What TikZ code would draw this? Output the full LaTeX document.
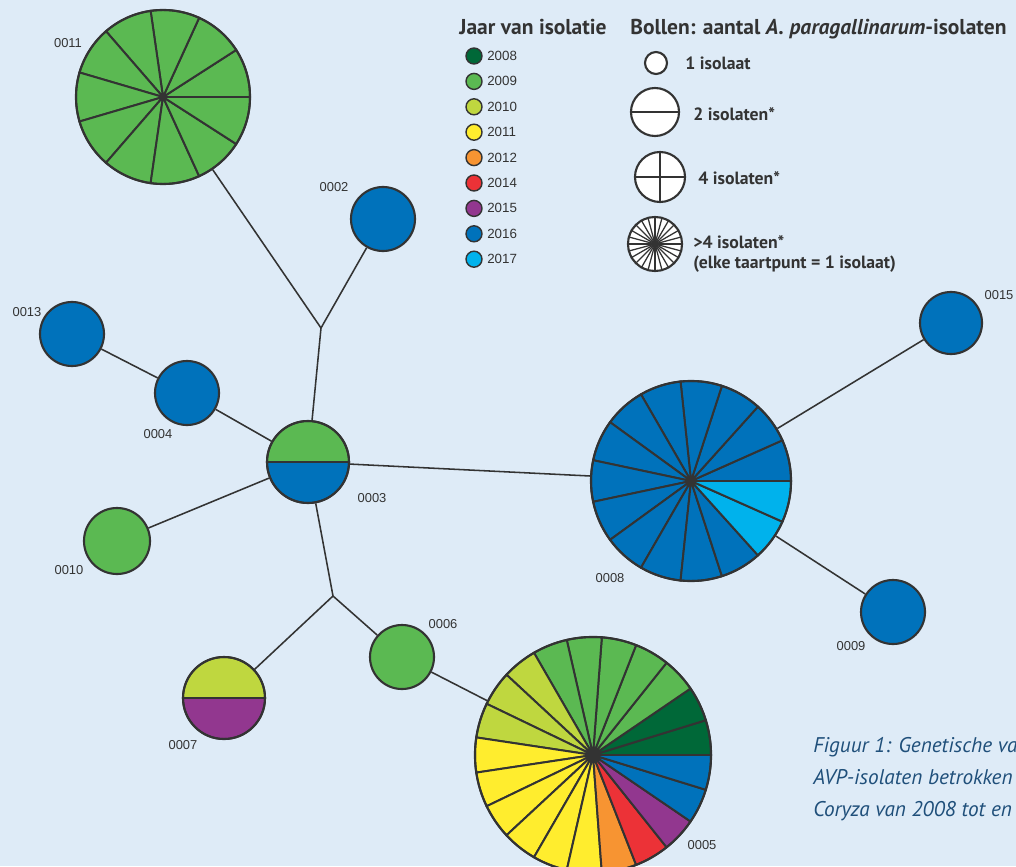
\documentclass[tikz,border=0pt]{standalone}
\usepackage{fontspec}
\setmainfont{Liberation Sans}
\newfontfamily\kopfont{PT Sans}
\usetikzlibrary{calc}

% kleuren per jaar
\definecolor{achter}{RGB}{222,235,247}
\definecolor{lijn}{RGB}{51,51,51}
\definecolor{capt}{RGB}{31,79,122}
\definecolor{j2008}{RGB}{0,104,56}
\definecolor{j2009}{RGB}{91,185,82}
\definecolor{j2010}{RGB}{191,215,63}
\definecolor{j2011}{RGB}{255,237,46}
\definecolor{j2012}{RGB}{247,148,50}
\definecolor{j2014}{RGB}{236,50,55}
\definecolor{j2015}{RGB}{146,55,143}
\definecolor{j2016}{RGB}{0,114,187}
\definecolor{j2017}{RGB}{0,178,236}

% taart: middelpunt, straal (px), aantal punten, kleurenlijst
\newcommand{\taart}[4]{%
  \foreach \kleur [count=\i from 0] in {#4} {%
    \filldraw[fill=\kleur,draw=lijn,line width=1.4pt]
      (#1) -- ++({\i*360/#3}:#2)
      arc[start angle={\i*360/#3},end angle={(\i+1)*360/#3},radius=#2] -- cycle;
  }%
}

\begin{document}
\begin{tikzpicture}[x=0.025cm,y=0.025cm,
  bol/.style={circle,draw=lijn,line width=1.5pt,inner sep=0pt,minimum size=#1*0.05cm},
  tak/.style={draw=lijn,line width=1.1pt},
  code/.style={font=\fontsize{9.2}{11}\selectfont,text=lijn,inner sep=0pt},
  kop/.style={font=\kopfont\bfseries\fontsize{15.3}{18}\selectfont,text=lijn,inner sep=0pt},
  uitleg/.style={font=\kopfont\bfseries\fontsize{12.6}{15}\selectfont,text=lijn,inner sep=0pt,anchor=west}]

% achtergrond
\fill[achter] (0,0) rectangle (1016,-866);
\useasboundingbox (0,0) rectangle (1016,-866);

% taarten
\taart{163,-97}{87}{11}{j2009,j2009,j2009,j2009,j2009,j2009,j2009,j2009,j2009,j2009,j2009}
\taart{691,-481}{100}{15}{j2016,j2016,j2016,j2016,j2016,j2016,j2016,j2016,j2016,j2016,j2016,j2016,j2016,j2017,j2017}
\taart{593,-755}{118}{21}{j2008,j2008,j2009,j2009,j2009,j2009,j2009,j2010,j2010,j2010,j2011,j2011,j2011,j2011,j2011,j2011,j2012,j2014,j2015,j2016,j2016}
\taart{308,-462}{41}{2}{j2009,j2016}
\taart{224,-698}{41}{2}{j2010,j2015}

% bollen
\node[bol=87] (n0011) at (163,-97) {};
\node[bol=100] (n0008) at (691,-481) {};
\node[bol=118] (n0005) at (593,-755) {};
\node[bol=41] (n0003) at (308,-462) {};
\node[bol=41] (n0007) at (224,-698) {};
\node[bol=32,fill=j2016] (n0002) at (383,-219) {};
\node[bol=32,fill=j2016] (n0013) at (72,-334) {};
\node[bol=32,fill=j2016] (n0004) at (187,-393) {};
\node[bol=33,fill=j2009] (n0010) at (117,-541) {};
\node[bol=31,fill=j2016] (n0015) at (951,-323) {};
\node[bol=32,fill=j2016] (n0009) at (893,-612) {};
\node[bol=32,fill=j2009] (n0006) at (402,-657) {};

% middelpunten
\fill[lijn] (n0011.center) circle (4);
\fill[lijn] (n0008.center) circle (4);
\fill[lijn] (n0005.center) circle (4);

% vertakkingen
\coordinate (j1) at (321,-328);
\coordinate (j2) at (333,-596);

% takken
\draw[tak] (n0011) -- (j1);
\draw[tak] (n0002) -- (j1);
\draw[tak] (j1) -- (n0003);
\draw[tak] (n0013) -- (n0004);
\draw[tak] (n0004) -- (n0003);
\draw[tak] (n0010) -- (n0003);
\draw[tak] (n0003) -- (n0008);
\draw[tak] (n0003) -- (j2);
\draw[tak] (j2) -- (n0007);
\draw[tak] (j2) -- (n0006);
\draw[tak] (n0006) -- (n0005);
\draw[tak] (n0008) -- (n0015);
\draw[tak] (n0008) -- (n0009);

% codes
\node[code] (t0011) at (68,-43) {0011};
\node[code] (t0002) at (334,-187) {0002};
\node[code] (t0013) at (27,-312) {0013};
\node[code] (t0004) at (158,-434) {0004};
\node[code] (t0003) at (372,-498) {0003};
\node[code] (t0010) at (69,-570) {0010};
\node[code] (t0008) at (610,-578) {0008};
\node[code] (t0006) at (443,-624) {0006};
\node[code] (t0007) at (183,-745) {0007};
\node[code] (t0005) at (702,-845) {0005};
\node[code] (t0015) at (999,-295) {0015};
\node[code] (t0009) at (851,-646) {0009};

% legenda jaren
\node[kop] (jaar) at (533,-27) {Jaar van isolatie};
\foreach \jr [count=\k from 0] in {2008,2009,2010,2011,2012,2014,2015,2016,2017} {
  \node[bol=8,line width=1pt,fill=j\jr] (b\jr) at (474,{-56-\k*25.4}) {};
  \node[code,anchor=west,font=\fontsize{9.5}{11}\selectfont] (t\jr) at (487,{-56-\k*25.4}) {\jr};
}

% legenda bollen
\node[kop,anchor=west] (bollen) at (630,-29) {Bollen: aantal \textit{A.~paragallinarum}-isolaten};
\node[bol=11,fill=white] (l1) at (656,-63) {};
\node[bol=24,fill=white] (l2) at (655,-112) {};
\node[bol=25,fill=white] (l3) at (660,-177) {};
\node[bol=27,fill=white] (l5) at (655,-244) {};
\draw[lijn,line width=1.3pt] (l2.west) -- (l2.east);
\draw[lijn,line width=1.3pt] (l3.west) -- (l3.east);
\draw[lijn,line width=1.3pt] (l3.north) -- (l3.south);
\foreach \h in {0,15,...,345}
  \draw[lijn,line width=0.9pt] (l5.center) -- (l5.\h);
\fill[lijn] (l5.center) circle (4);
\node[uitleg] (u1) at (685,-63) {1 isolaat};
\node[uitleg] (u2) at (693,-114) {2 isolaten*};
\node[uitleg] (u3) at (698,-178) {4 isolaten*};
\node[uitleg] (u5) at (693,-242) {>4 isolaten*};
\node[uitleg] (u6) at (693,-264) {(elke taartpunt = 1 isolaat)};

% bijschrift (rechts afgesneden)
\begin{scope}
\clip (0,0) rectangle (1016,-866);
\node[anchor=base west,inner sep=0pt,text=capt,font=\kopfont\itshape\fontsize{15.1}{17}\selectfont] (cap1) at (813,-752) {Figuur 1: Genetische va};
\node[anchor=base west,inner sep=0pt,text=capt,font=\kopfont\itshape\fontsize{15.1}{17}\selectfont] (cap2) at (813,-784) {AVP-isolaten betrokken};
\node[anchor=base west,inner sep=0pt,text=capt,font=\kopfont\itshape\fontsize{15.1}{17}\selectfont] (cap3) at (813,-816) {Coryza van 2008 tot en};
\end{scope}

\end{tikzpicture}
\end{document}
